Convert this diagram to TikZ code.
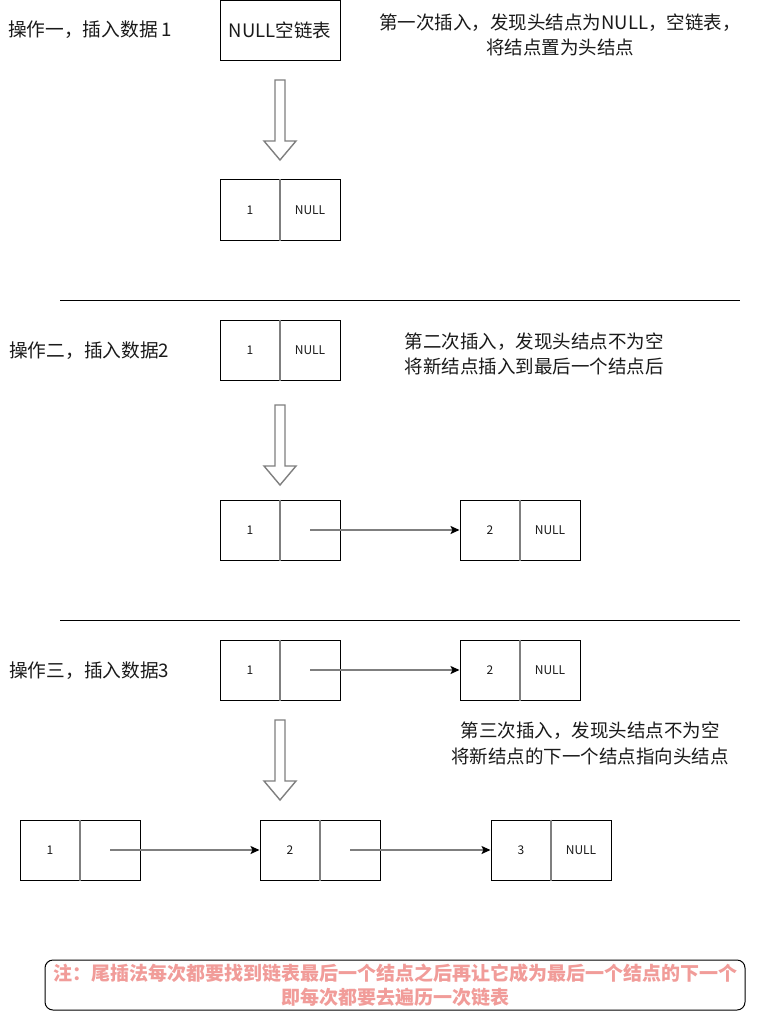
\documentclass[tikz,border=0pt]{standalone}
\usepackage{fontspec}
\setmainfont{Noto Sans CJK SC}
\usetikzlibrary{arrows.meta}
\definecolor{divgray}{HTML}{7F7F7F}
\definecolor{notered}{HTML}{F19C99}
\definecolor{txt}{HTML}{1A1A1A}
\tikzset{
  listbox/.style={draw=black, line width=1pt, minimum width=120pt, minimum height=60pt, inner sep=0pt},
  divider/.style={draw=divgray, line width=1.6pt},
  celltext/.style={inner sep=0pt, text=txt, font=\fontsize{12}{14}\selectfont},
  ptr/.style={draw=divgray, line width=1.6pt, -{Stealth[length=9pt,width=8pt,inset=2pt,fill=black,color=black]}},
  barrow/.style={draw=divgray, line width=1.4pt, fill=white, line join=miter},
  oplabel/.style={anchor=base west, inner sep=0pt, text=txt, font=\fontsize{18.7}{25}\selectfont},
  desc/.style={inner sep=0pt, text=txt, align=center, font=\fontsize{18.5}{25.5}\selectfont},
  sepline/.style={draw=black, line width=1pt},
  notebox/.style={draw=black, line width=1pt, rounded corners=8pt, minimum width=700pt, minimum height=50pt, inner sep=0pt},
  notetext/.style={inner sep=0pt, text=notered, align=center, font=\bfseries\fontsize{19}{24.5}\selectfont},
}
\newcommand{\blockarrowat}[2]{%
  \draw[barrow] (#1-5,#2) -- (#1+5,#2) -- (#1+5,#2+61) -- (#1+16,#2+61) -- (#1,#2+80) -- (#1-16,#2+61) -- (#1-5,#2+61) -- cycle;}
\begin{document}
\begin{tikzpicture}[x=1pt,y=-1pt]
\fill[white] (0,0) rectangle (761,1011);
\useasboundingbox (0,0) rectangle (761,1011);

% ---------- operation 1 ----------
\node[oplabel] (op1) at (8,36.5) {操作一，插入数据 1};
\node[draw=black, line width=1pt, minimum width=120pt, minimum height=59.5pt, inner sep=0pt,
      text=txt, font=\fontsize{18.5}{22}\selectfont] (empty) at (280,30.5) {NULL空链表};
\node[desc] (d1) at (560,35) {第一次插入，发现头结点为NULL，空链表，\\将结点置为头结点};
\blockarrowat{280}{80}
\node[listbox] (a1) at (280,210) {};
\draw[divider] (a1.north) -- (a1.south);
\node[celltext] (a1d) at (250,210) {1};
\node[celltext] (a1n) at (310,210) {NULL};

\coordinate (s1a) at (60,300);
\coordinate (s1b) at (740,300);
\draw[sepline] (s1a) -- (s1b);

% ---------- operation 2 ----------
\node[oplabel] (op2) at (9,357) {操作二，插入数据2};
\node[listbox] (b0) at (280,350) {};
\draw[divider] (b0.north) -- (b0.south);
\node[celltext] (b0d) at (250,350) {1};
\node[celltext] (b0n) at (310,350) {NULL};
\node[desc] (d2) at (534,354) {第二次插入，发现头结点不为空\\将新结点插入到最后一个结点后};
\blockarrowat{280}{405}
\node[listbox] (b1) at (280,530) {};
\draw[divider] (b1.north) -- (b1.south);
\node[celltext] (b1d) at (250,530) {1};
\coordinate (b1p) at (310,530);
\node[listbox] (b2) at (520,530) {};
\draw[divider] (b2.north) -- (b2.south);
\node[celltext] (b2d) at (490,530) {2};
\node[celltext] (b2n) at (550,530) {NULL};
\draw[ptr] (b1p) -- (b2.west);

\coordinate (s2a) at (60,620);
\coordinate (s2b) at (740,620);
\draw[sepline] (s2a) -- (s2b);

% ---------- operation 3 ----------
\node[oplabel] (op3) at (9,677) {操作三，插入数据3};
\node[listbox] (c1) at (280,670) {};
\draw[divider] (c1.north) -- (c1.south);
\node[celltext] (c1d) at (250,670) {1};
\coordinate (c1p) at (310,670);
\node[listbox] (c2) at (520,670) {};
\draw[divider] (c2.north) -- (c2.south);
\node[celltext] (c2d) at (490,670) {2};
\node[celltext] (c2n) at (550,670) {NULL};
\draw[ptr] (c1p) -- (c2.west);
\node[desc] (d3) at (590,743.5) {第三次插入，发现头结点不为空\\将新结点的下一个结点指向头结点};
\blockarrowat{280}{720}
\node[listbox] (e1) at (80,850) {};
\draw[divider] (e1.north) -- (e1.south);
\node[celltext] (e1d) at (50,850) {1};
\coordinate (e1p) at (110,850);
\node[listbox] (e2) at (320,850) {};
\draw[divider] (e2.north) -- (e2.south);
\node[celltext] (e2d) at (290,850) {2};
\coordinate (e2p) at (350,850);
\node[listbox] (e3) at (551,850) {};
\draw[divider] (e3.north) -- (e3.south);
\node[celltext] (e3d) at (521,850) {3};
\node[celltext] (e3n) at (581,850) {NULL};
\draw[ptr] (e1p) -- (e2.west);
\draw[ptr] (e2p) -- (e3.west);

% ---------- note ----------
\node[notebox] (note) at (395,985) {};
\node[notetext] (notet) at (395,985) {注：尾插法每次都要找到链表最后一个结点之后再让它成为最后一个结点的下一个\\即每次都要去遍历一次链表};
\end{tikzpicture}
\end{document}
